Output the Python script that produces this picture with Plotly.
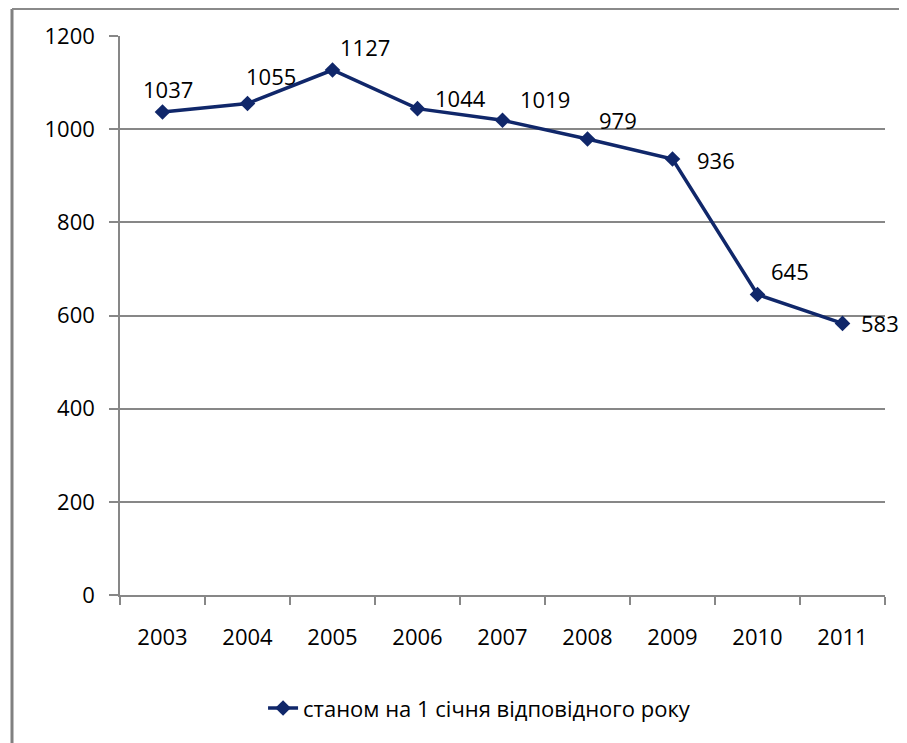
import plotly.graph_objects as go

years = ["2003", "2004", "2005", "2006", "2007", "2008", "2009", "2010", "2011"]
values = [1037, 1055, 1127, 1044, 1019, 979, 936, 645, 583]
series_name = "станом на 1 січня відповідного року"
y_ticks = [0, 200, 400, 600, 800, 1000, 1200]

# label offsets (px) relative to each point
label_dx = [5, 23, 32, 43, 42, 30, 43, 32, 37]
label_dy = [23, 28, 23, 11, 21, 19, -1, 24, 0]

W, H = 907, 743
PAGE = 8  # page body margin offset
L, R, T, B = 120 - PAGE, 30, 36 - PAGE, 156
FONT = "Open Sans"
FS = 22
NAVY = "#10276A"
GRID = "#878787"

fig = go.Figure()
fig.add_trace(go.Scatter(
    x=years, y=values, mode="lines+markers", name=series_name,
    line=dict(color=NAVY, width=3.5),
    marker=dict(symbol="diamond", size=12, color=NAVY),
))

for i, (v, dx, dy) in enumerate(zip(values, label_dx, label_dy)):
    fig.add_annotation(x=i, y=v, xref="x", yref="y", text=str(v), showarrow=False,
                       xshift=dx, yshift=dy,
                       font=dict(family=FONT, size=FS, color="#000000"))

pw = W - L - R
ph = H - T - B
# outer chart frame (left and top edges visible)
fx = (12 - PAGE - L) / pw
fy = 1 + (T - 1) / ph
fig.add_shape(type="line", xref="paper", yref="paper", x0=fx, x1=fx, y0=fy, y1=-1,
              line=dict(color="#808080", width=3))
fig.add_shape(type="line", xref="paper", yref="paper", x0=fx, x1=2, y0=fy, y1=fy,
              line=dict(color="#8a8a8a", width=2))

fig.update_layout(
    width=W, height=H,
    margin=dict(l=L, r=R, t=T, b=B, autoexpand=False),
    paper_bgcolor="white", plot_bgcolor="white",
    font=dict(family=FONT, size=FS, color="#000000"),
    showlegend=True,
    legend=dict(orientation="h", x=0.47, xanchor="center", y=-0.165, yanchor="top",
                font=dict(family=FONT, size=FS)),
    xaxis=dict(type="category", tickson="boundaries", ticks="outside", ticklen=8,
               tickcolor=GRID, tickwidth=1.5, showgrid=False, showline=True,
               linecolor=GRID, linewidth=1.5, range=[-0.5, 8.5],
               tickfont=dict(family=FONT, size=FS), ticklabelstandoff=22),
    yaxis=dict(range=[0, 1200], tickvals=y_ticks, ticks="outside", ticklen=9,
               tickcolor=GRID, tickwidth=1.5, showgrid=True, gridcolor=GRID,
               gridwidth=1.5, showline=True, linecolor=GRID, linewidth=1.5,
               zeroline=False, tickfont=dict(family=FONT, size=FS), ticklabelstandoff=10),
)

fig.write_html("out.html")
